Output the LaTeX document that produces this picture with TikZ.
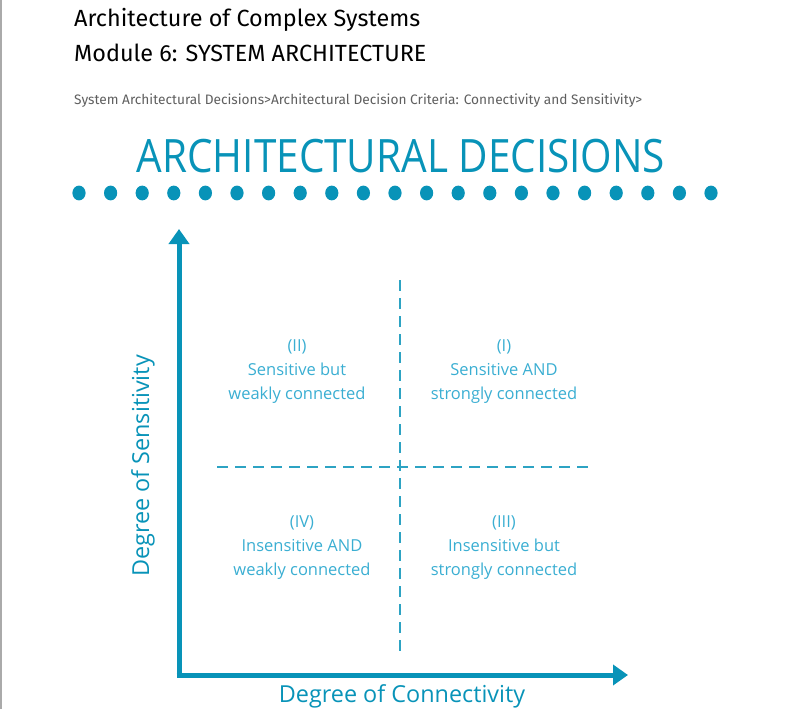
\documentclass[tikz,border=0pt]{standalone}
\usepackage{fontspec}
\usepackage{xcolor}
\usepackage{tikz}
\usetikzlibrary{arrows.meta,positioning}
\setmainfont{Open Sans}
\newfontfamily\headfont{Fira Sans}
\newfontfamily\titlefont[FakeStretch=0.88]{Open Sans}
\definecolor{archteal}{HTML}{0893B8}
\definecolor{archlight}{HTML}{3AAED2}
\definecolor{crumbgray}{HTML}{5F5F5F}
\definecolor{edgegray}{HTML}{AAAAAA}
\tikzset{
  headline/.style={anchor=base west, inner sep=0pt, font=\headfont\fontsize{23.4}{23.4}\selectfont, text=black},
  crumb/.style={anchor=base west, inner sep=0pt, font=\headfont\fontsize{13.7}{13.7}\selectfont, text=crumbgray},
  bigtitle/.style={anchor=base, inner sep=0pt, font=\titlefont\fontsize{46}{46}\selectfont, text=archteal},
  axisline/.style={line width=5pt, draw=archteal, -{Triangle[width=20pt,length=15pt]}},
  divider/.style={line width=1.6pt, draw=archteal!85, dash pattern=on 11pt off 7pt},
  quadtext/.style={align=center, inner sep=0pt, text=archlight, font=\fontsize{16.5}{24}\selectfont},
  axislabel/.style={inner sep=0pt, text=archteal, font=\fontsize{23.4}{23.4}\selectfont}
}

\begin{document}
\begin{tikzpicture}[x=1pt, y=-1pt]
  \useasboundingbox (0,0) rectangle (800,709);
  \fill[edgegray] (0,0) rectangle (2,709);

  % header
  \node[headline] (course) at (74,27) {Architecture of Complex Systems};
  \node[headline] (module) at (74,62) {Module 6: SYSTEM ARCHITECTURE};
  \node[crumb] (path) at (74,104) {System Architectural Decisions>Architectural Decision Criteria: Connectivity and Sensitivity>};
  \node[bigtitle] (title) at (401,172) {ARCHITECTURAL DECISIONS};
  \foreach \i in {0,...,20}
    \fill[archteal] (79+\i*31.6,193) ellipse (6.6pt and 7.4pt);

  % axes
  \coordinate (origin) at (179,675);
  \coordinate (ytip) at (179,229);
  \coordinate (xtip) at (628,675);
  \draw[axisline] (origin) -- (ytip);
  \draw[axisline] (origin) -- (xtip);
  \draw[archteal, line width=5pt] ([xshift=-2.5pt]origin) -- ([xshift=2.5pt]origin);

  % quadrant dividers
  \coordinate (vtop) at (400,280);
  \coordinate (vbot) at (400,652);
  \coordinate (hleft) at (217,467);
  \coordinate (hright) at (588,467);
  \draw[divider] (vtop) -- (vbot);
  \draw[divider] (hleft) -- (hright);

  % quadrants
  \node[quadtext] (q2) at (297,372) {(II)\\Sensitive but\\weakly connected};
  \node[quadtext] (q1) at (504,372) {(I)\\Sensitive AND\\strongly connected};
  \node[quadtext] (q4) at (302,548) {(IV)\\Insensitive AND\\weakly connected};
  \node[quadtext] (q3) at (504,548) {(III)\\Insensitive but\\strongly connected};

  \node[axislabel, rotate=90] (ylab) at (143,466) {Degree of Sensitivity};
  \node[axislabel, anchor=base] (xlab) at (402,702) {Degree of Connectivity};
\end{tikzpicture}
\end{document}
